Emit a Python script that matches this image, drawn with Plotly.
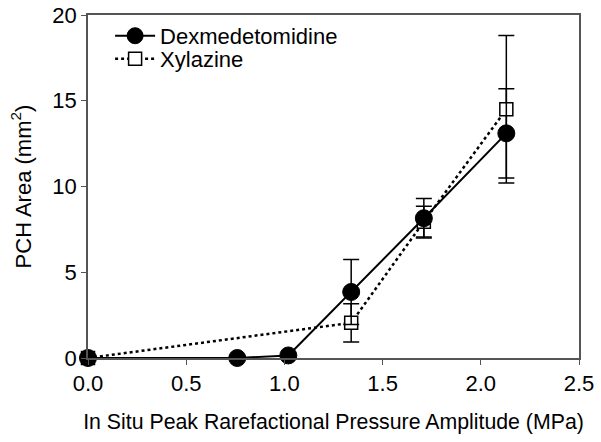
import plotly.graph_objects as go

# Data
dex_x = [0.0, 0.76, 1.02, 1.34, 1.71, 2.13]
dex_y = [0.0, 0.0, 0.15, 3.85, 8.15, 13.1]
dex_err = [0.0, 0.0, 0.0, 1.9, 1.15, 2.6]

xyl_x = [0.0, 1.34, 1.71, 2.13]
xyl_y = [0.0, 2.05, 7.95, 14.5]
xyl_err = [0.0, 1.12, 0.9, 4.3]

x_ticks = [0.0, 0.5, 1.0, 1.5, 2.0, 2.5]
x_ticklabels = ["0.0", "0.5", "1.0", "1.5", "2.0", "2.5"]
y_ticks = [0, 5, 10, 15, 20]

FONT = "Arial, 'Liberation Sans', sans-serif"
FS = 22

xyl_line = dict(color="black", width=2.5, dash="dot")
xyl_marker_line = dict(color="black", width=1.5)

fig = go.Figure()

# Xylazine data (legend drawn by a separate legend-only entry)
fig.add_trace(go.Scatter(
    x=xyl_x, y=xyl_y, name="Xylazine", mode="lines+markers", showlegend=False,
    line=xyl_line,
    marker=dict(symbol="square", size=13,
                color=["black"] + ["white"] * (len(xyl_x) - 1),
                line=xyl_marker_line),
    error_y=dict(type="data", array=xyl_err, visible=True, color="black",
                 thickness=1.5, width=8),
    cliponaxis=False,
))

fig.add_trace(go.Scatter(
    x=dex_x, y=dex_y, name="Dexmedetomidine", mode="lines+markers",
    line=dict(color="black", width=2),
    marker=dict(symbol="circle", size=17, color="black",
                line=dict(color="black", width=1)),
    error_y=dict(type="data", array=dex_err, visible=True, color="black",
                 thickness=1.5, width=8),
    cliponaxis=False, legend="legend",
))

# legend entry for Xylazine (white square)
fig.add_trace(go.Scatter(
    x=[None], y=[None], name="Xylazine", mode="lines+markers",
    line=xyl_line,
    marker=dict(symbol="square", size=13, color="white", line=xyl_marker_line),
    legend="legend2",
))

leg_common = dict(x=0.045, xanchor="left", yanchor="middle",
                  bgcolor="rgba(0,0,0,0)", font=dict(size=FS),
                  itemwidth=40, tracegroupgap=0)

fig.update_layout(
    width=601, height=442,
    margin=dict(l=88, r=22, t=15, b=84),
    paper_bgcolor="white", plot_bgcolor="white",
    font=dict(family=FONT, size=FS, color="black"),
    showlegend=True,
    legend=dict(y=0.939, **leg_common),
    legend2=dict(y=0.872, **leg_common),
    xaxis=dict(range=[0, 2.5], tickvals=x_ticks, ticktext=x_ticklabels,
               showline=True, linecolor="#555", linewidth=1.5, mirror=True,
               ticks="outside", ticklen=5, tickcolor="#555", showgrid=False,
               zeroline=False, tickfont=dict(size=FS), automargin=False,
               ticklabeloverflow="allow",
               title=dict(text="In Situ Peak Rarefactional Pressure Amplitude (MPa)",
                          font=dict(size=21.3), standoff=19)),
    yaxis=dict(range=[0, 20], tickvals=y_ticks,
               showline=True, linecolor="#555", linewidth=1.5, mirror=True,
               ticks="outside", ticklen=5, tickcolor="#555", showgrid=False,
               zeroline=False, tickfont=dict(size=FS), automargin=False,
               ticklabeloverflow="allow",
               title=dict(text="PCH Area (mm<sup>2</sup>)",
                          font=dict(size=FS), standoff=15)),
)

# remove the browser's default 8px page margin so the figure fills the window
fig.write_html("out.html", config={"displayModeBar": False},
               post_script="document.body.style.margin='0';")
